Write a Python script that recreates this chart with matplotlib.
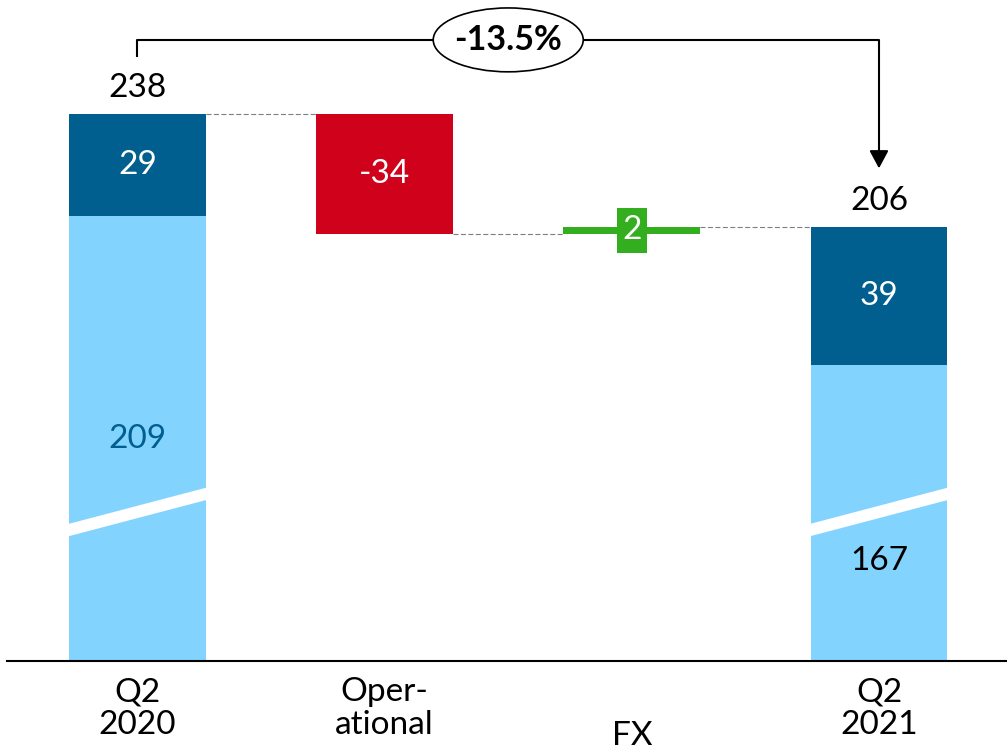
import matplotlib
matplotlib.use("Agg")
import matplotlib.pyplot as plt
from matplotlib.patches import Ellipse, Rectangle, Polygon

plt.rcParams['font.family'] = ['Lato', 'DejaVu Sans']

# Waterfall: Q2 2020 -> Q2 2021
categories = ['Q2\n2020', 'Oper-\national', 'FX', 'Q2\n2021']
q2_2020_base = 209
q2_2020_top = 29
operational = -34
fx = 2
q2_2021_base = 167
q2_2021_top = 39
change_label = '-13.5%'

DARK = '#005F8F'
LIGHT = '#83D3FF'
RED = '#D0021B'
GREEN = '#33AE1F'
GREY = '#7F7F7F'

start_total = q2_2020_base + q2_2020_top
after_op = start_total + operational
end_total = after_op + fx

fig = plt.figure(figsize=(10.07, 7.5), dpi=100)
ax = fig.add_axes([7 / 1007, 89.3 / 750, 1000 / 1007, 660.7 / 750])
ax.set_xlim(-0.528, 3.518)
ax.set_ylim(83.1, 270.3)
for side in ['top', 'left', 'right']:
    ax.spines[side].set_visible(False)
ax.spines['bottom'].set_linewidth(1.5)
ax.set_xticks([])
ax.set_yticks([])

w = 0.554
x = [0, 1, 2, 3]

# stacked totals
ax.bar(x[0], q2_2020_base, w, color=LIGHT)
ax.bar(x[0], q2_2020_top, w, bottom=q2_2020_base, color=DARK)
ax.bar(x[3], q2_2021_base, w, color=LIGHT)
ax.bar(x[3], q2_2021_top, w, bottom=q2_2021_base, color=DARK)

# deltas
ax.bar(x[1], -operational, w, bottom=after_op, color=RED)
ax.bar(x[2], fx, w, bottom=after_op, color=GREEN)

# axis break marks across the totals
brk_lo, brk_rise, brk_gap = 118.3, 10.4, 3.5
for xc in (x[0], x[3]):
    xl, xr = xc - w / 2, xc + w / 2
    ax.add_patch(Polygon([(xl - 0.005, brk_lo), (xr + 0.005, brk_lo + brk_rise),
                          (xr + 0.005, brk_lo + brk_rise + brk_gap),
                          (xl - 0.005, brk_lo + brk_gap)],
                         closed=True, facecolor='white', edgecolor='none', zorder=3))

# connectors
dash = dict(color=GREY, lw=0.8, ls=(0, (4.5, 2.2)), zorder=1)
ax.plot([x[0] + w / 2, x[1] - w / 2], [start_total, start_total], **dash)
ax.plot([x[1] + w / 2, x[2] - w / 2], [after_op, after_op], **dash)
ax.plot([x[2] + w / 2, x[3] - w / 2], [end_total, end_total], **dash)

fs = 24
ax.text(x[0], start_total + 7.4, f'{start_total}', ha='center', va='center', fontsize=fs)
ax.text(x[0], q2_2020_base + q2_2020_top / 2, f'{q2_2020_top}', ha='center', va='center',
        fontsize=fs, color='white')
ax.text(x[0], (q2_2020_base + 83.1) / 2, f'{q2_2020_base}', ha='center', va='center',
        fontsize=fs, color=DARK)
ax.text(x[1], after_op - operational / 2, f'{operational}', ha='center', va='center',
        fontsize=fs, color='white')
ax.text(x[3], end_total + 7.4, f'{end_total}', ha='center', va='center', fontsize=fs)
ax.text(x[3], q2_2021_base + q2_2021_top / 2, f'{q2_2021_top}', ha='center', va='center',
        fontsize=fs, color='white')
ax.text(x[3], 111.4, f'{q2_2021_base}', ha='center', va='center', fontsize=fs)

# FX label box
fx_mid = after_op + fx / 2
ax.add_patch(Rectangle((x[2] - 0.061, fx_mid - 6.35), 0.122, 12.7,
                       facecolor=GREEN, edgecolor='none', zorder=4))
ax.text(x[2], fx_mid, f'{fx}', ha='center', va='center', fontsize=fs, color='white', zorder=5)

# change bracket
y_br = 259
ax.plot([x[0], x[0], x[3], x[3]], [start_total + 16.2, y_br, y_br, end_total + 21],
        color='black', lw=1.5, solid_capstyle='butt', zorder=2)
ax.annotate('', xy=(x[3], end_total + 16.6), xytext=(x[3], end_total + 22),
            arrowprops=dict(arrowstyle='-|>,head_length=10.8,head_width=5.8',
                            mutation_scale=1, color='black', lw=1.5,
                            shrinkA=0, shrinkB=0))
ax.add_patch(Ellipse((1.5, y_br), 0.607, 18.1, facecolor='white', edgecolor='black',
                     lw=1.2, zorder=3))
ax.text(1.5, y_br, change_label, ha='center', va='center', fontsize=fs + 0.5,
        fontweight='bold', zorder=4)

# category labels
for xi, lab in zip(x, categories):
    if '\n' in lab:
        fig.text((7 + (xi + 0.528) * 247.2) / 1007, (750 - 708.5) / 750, lab,
                 ha='center', va='center', fontsize=fs, linespacing=1.1)
    else:
        fig.text((7 + (xi + 0.528) * 247.2) / 1007, (750 - 736) / 750, lab,
                 ha='center', va='center', fontsize=fs)

fig.savefig('out.png', dpi=100)
